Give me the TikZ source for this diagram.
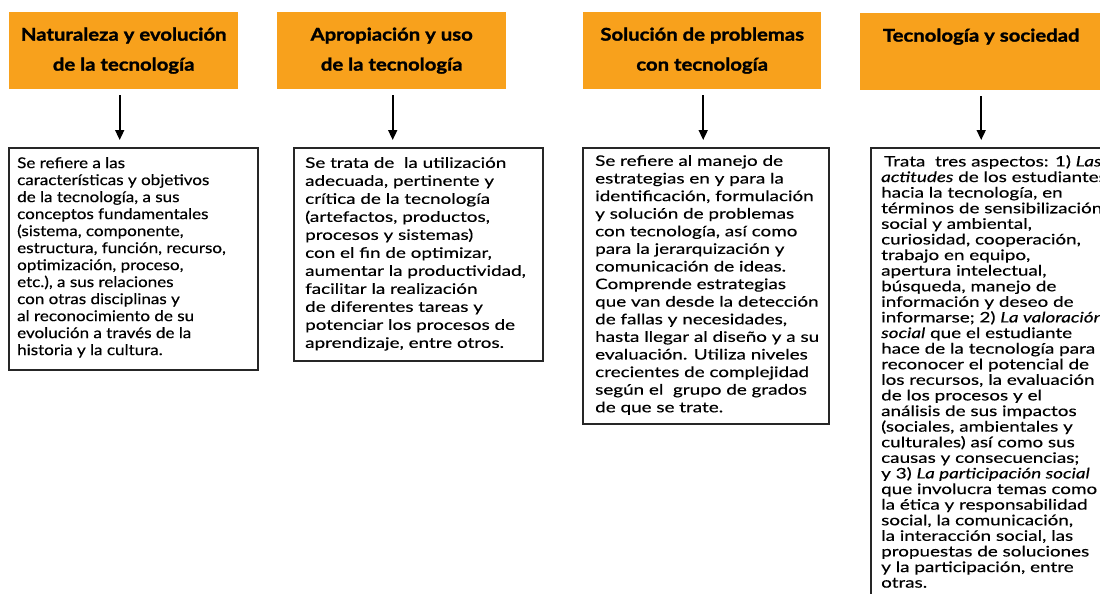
\documentclass[tikz,border=0pt]{standalone}
\usepackage{fontspec}
\setmainfont{Lato}
\newfontfamily\hdrfont[FakeStretch=1.16,FakeBold=1.5]{Lato}
\newfontfamily\bodyA[FakeStretch=1.15,FakeBold=0.4]{Lato}
\newfontfamily\bodyB[FakeStretch=1.3,FakeBold=0.4]{Lato}
\usetikzlibrary{arrows.meta}
\definecolor{hdr}{HTML}{F8A11C}
\begin{document}
\begin{tikzpicture}[x=1pt,y=-1pt,
  hdrbox/.style={fill=hdr, draw=none, minimum height=77, anchor=north west, inner sep=0,
    align=center, font=\hdrfont\bfseries\fontsize{17.5}{30}\selectfont},
  tbox/.style={draw=black!85, line width=1.8, anchor=north west, inner sep=0},
  btxt/.style={anchor=north west, inner sep=0, align=left},
  arr/.style={-{Triangle[length=10pt,width=9pt]}, line width=1.7}
]
\useasboundingbox (0,0) rectangle (1100,594);
\clip (0,0) rectangle (1100,594);

% headers
\node[hdrbox, minimum width=229] (h1) at (9,12) {Naturaleza y evolución\\de la tecnología};
\node[hdrbox, minimum width=229] (h2) at (277,12) {Apropiación y uso\\de la tecnología};
\node[hdrbox, minimum width=238] (h3) at (583,12) {Solución de problemas\\con tecnología};
\node[hdrbox, minimum width=242] (h4) at (860,13) {Tecnología y sociedad\\\phantom{de la tecnología}};

% boxes
\node[tbox, minimum width=249, minimum height=222] (b1) at (8,147) {};
\node[tbox, minimum width=249, minimum height=213] (b2) at (293,147) {};
\node[tbox, minimum width=246, minimum height=276] (b3) at (582,147) {};
\node[tbox, minimum width=250, minimum height=470] (b4) at (870,147) {};

% arrows
\draw[arr] ([xshift=-4pt,yshift=-6pt]h1.south) -- ([xshift=-4pt,yshift=7pt]h1.south |- b1.north);
\draw[arr] ([xshift=1pt,yshift=-6pt]h2.south) -- ([xshift=1pt,yshift=7pt]h2.south |- b2.north);
\draw[arr] ([xshift=1pt,yshift=-6pt]h3.south) -- ([xshift=1pt,yshift=7pt]h3.south |- b3.north);
\draw[arr] ([yshift=-6pt]h4.south) -- ([yshift=7pt]h4.south |- b4.north);

% texts
\node[btxt, font=\bodyA\fontsize{14.8}{17}\selectfont] (t1) at (17,157) {Se refiere a las\\
características y objetivos\\
de la tecnología, a sus\\
conceptos fundamentales\\
(sistema, componente,\\
estructura, función, recurso,\\
optimización, proceso,\\
etc.), a sus relaciones\\
con otras disciplinas y\\
al reconocimiento de su\\
evolución a través de la\\
historia y la cultura.};

\node[btxt, font=\bodyB\fontsize{14.5}{18}\selectfont] (t2) at (305,157) {Se trata de \ la utilización\\
adecuada, pertinente y\\
crítica de la tecnología\\
(artefactos, productos,\\
procesos y sistemas)\\
con el fin de optimizar,\\
aumentar la productividad,\\
facilitar la realización\\
de diferentes tareas y\\
potenciar los procesos de\\
aprendizaje, entre otros.};

\node[btxt, font=\bodyB\fontsize{14.5}{17.6}\selectfont] (t3) at (595,155) {Se refiere al manejo de\\
estrategias en y para la\\
identificación, formulación\\
y solución de problemas\\
con tecnología, así como\\
para la jerarquización y\\
comunicación de ideas.\\
Comprende estrategias\\
que van desde la detección\\
de fallas y necesidades,\\
hasta llegar al diseño y a su\\
evaluación. Utiliza niveles\\
crecientes de complejidad\\
según el \ grupo de grados\\
de que se trate.};

\node[btxt, font=\bodyB\fontsize{14.5}{15.6}\selectfont] (t4) at (881,155) {\hspace{3pt}Trata \ tres aspectos: 1) \textit{Las}\\
\textit{actitudes} de los estudiantes\\
hacia la tecnología, en\\
términos de sensibilización\\
social y ambiental,\\
curiosidad, cooperación,\\
trabajo en equipo,\\
apertura intelectual,\\
búsqueda, manejo de\\
información y deseo de\\
informarse; 2) \textit{La valoración}\\
\textit{social} que el estudiante\\
hace de la tecnología para\\
reconocer el potencial de\\
los recursos, la evaluación\\
de los procesos y el\\
análisis de sus impactos\\
(sociales, ambientales y\\
culturales) así como sus\\
causas y consecuencias;\\
y 3) \textit{La participación social}\\
que involucra temas como\\
la ética y responsabilidad\\
social, la comunicación,\\
la interacción social, las\\
propuestas de soluciones\\
y la participación, entre\\
otras.};
\end{tikzpicture}
\end{document}
